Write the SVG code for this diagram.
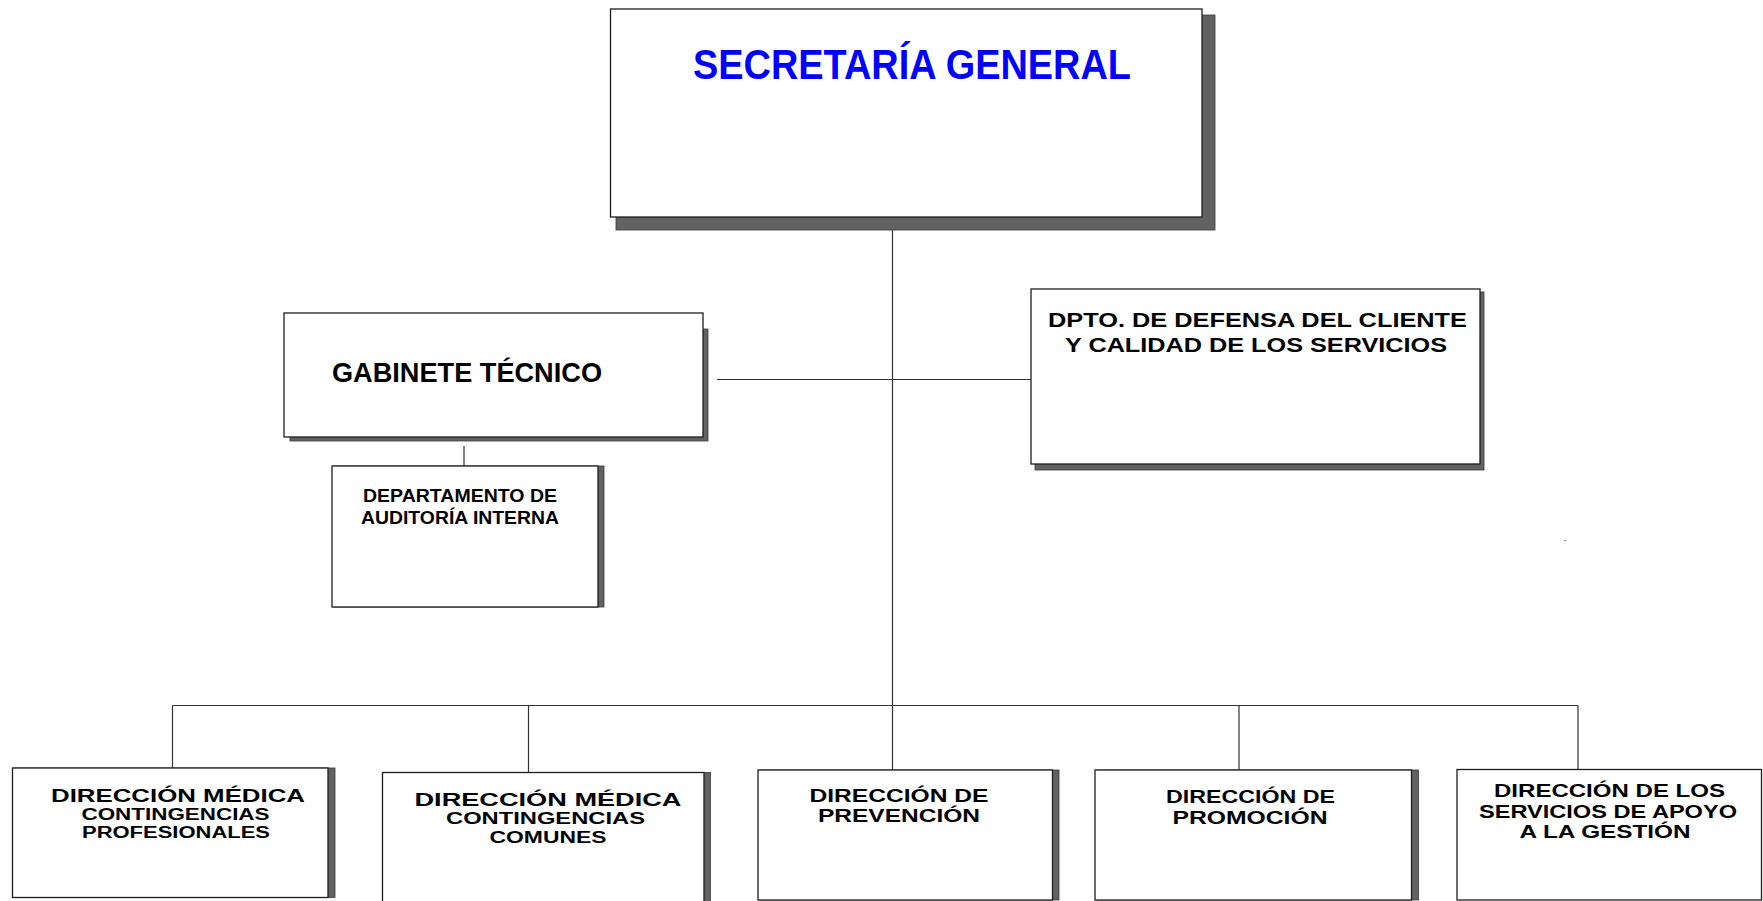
<svg xmlns="http://www.w3.org/2000/svg" width="1763" height="901" viewBox="0 0 1763 901">
<style>
.bg{fill:#ffffff}
.sh{fill:#626262;stroke:#3a3a3a;stroke-width:0.8}
.bx{fill:#ffffff;stroke:#1e1e1e;stroke-width:1.3}
.ln{stroke:#333333;stroke-width:1.2;fill:none}
.t{font-family:"Liberation Sans",Arial,sans-serif;font-weight:bold;fill:#000000;text-anchor:middle}
.title{fill:#0000ff}
</style>
<rect class="bg" x="0" y="0" width="1763" height="901"/>
<g id="connectors">
<line class="ln" x1="892.5" y1="217" x2="892.5" y2="770"/>
<line class="ln" x1="717" y1="379.5" x2="1031" y2="379.5"/>
<line class="ln" x1="464" y1="446" x2="464" y2="471"/>
<line class="ln" x1="172.5" y1="705.5" x2="1578" y2="705.5"/>
<line class="ln" x1="172.5" y1="705.5" x2="172.5" y2="770"/>
<line class="ln" x1="528.5" y1="705.5" x2="528.5" y2="776.5"/>
<line class="ln" x1="1239" y1="705.5" x2="1239" y2="770"/>
<line class="ln" x1="1578" y1="705.5" x2="1578" y2="769.5"/>
</g>
<g id="secretaria-general">
<rect class="sh" x="616" y="15" width="599" height="215"/>
<rect class="bx" x="610.5" y="9" width="591.5" height="208"/>
<text class="t title" x="912" y="79" font-size="42" textLength="438" lengthAdjust="spacingAndGlyphs">SECRETARÍA GENERAL</text>
</g>
<g id="gabinete-tecnico">
<rect class="sh" x="290" y="329" width="418" height="112"/>
<rect class="bx" x="284" y="313" width="419" height="124"/>
<text class="t" x="467" y="381.5" font-size="27" textLength="270" lengthAdjust="spacingAndGlyphs">GABINETE TÉCNICO</text>
</g>
<g id="auditoria-interna">
<rect class="sh" x="334" y="466" width="270" height="141"/>
<rect class="bx" x="332" y="466" width="266" height="141"/>
<text class="t" x="460" y="502" font-size="18.5" textLength="194" lengthAdjust="spacingAndGlyphs">DEPARTAMENTO DE</text>
<text class="t" x="460" y="524" font-size="18.5" textLength="198" lengthAdjust="spacingAndGlyphs">AUDITORÍA INTERNA</text>
</g>
<g id="defensa-cliente">
<rect class="sh" x="1035" y="292" width="449" height="178"/>
<rect class="bx" x="1031" y="289" width="449" height="175"/>
<text class="t" x="1257.5" y="327" font-size="21" textLength="419" lengthAdjust="spacingAndGlyphs">DPTO. DE DEFENSA DEL CLIENTE</text>
<text class="t" x="1256" y="352" font-size="21" textLength="382" lengthAdjust="spacingAndGlyphs">Y CALIDAD DE LOS SERVICIOS</text>
</g>
<g id="dir-medica-profesionales">
<rect class="sh" x="14" y="768" width="321" height="129.5"/>
<rect class="bx" x="12.5" y="768" width="315.5" height="129.5"/>
<text class="t" x="178" y="801.7" font-size="17.5" textLength="254" lengthAdjust="spacingAndGlyphs">DIRECCIÓN MÉDICA</text>
<text class="t" x="175.5" y="820.3" font-size="16" textLength="188" lengthAdjust="spacingAndGlyphs">CONTINGENCIAS</text>
<text class="t" x="176" y="838.3" font-size="16" textLength="188" lengthAdjust="spacingAndGlyphs">PROFESIONALES</text>
</g>
<g id="dir-medica-comunes">
<rect class="sh" x="384" y="772.5" width="326.5" height="135"/>
<rect class="bx" x="382.5" y="772.5" width="321.5" height="135"/>
<text class="t" x="548" y="805.7" font-size="18" textLength="267" lengthAdjust="spacingAndGlyphs">DIRECCIÓN MÉDICA</text>
<text class="t" x="545.5" y="824.3" font-size="16" textLength="199" lengthAdjust="spacingAndGlyphs">CONTINGENCIAS</text>
<text class="t" x="548" y="843.3" font-size="16" textLength="117" lengthAdjust="spacingAndGlyphs">COMUNES</text>
</g>
<g id="dir-prevencion">
<rect class="sh" x="760" y="770" width="299" height="130"/>
<rect class="bx" x="758" y="770" width="294.5" height="130"/>
<text class="t" x="899" y="802.3" font-size="17.5" textLength="179" lengthAdjust="spacingAndGlyphs">DIRECCIÓN DE</text>
<text class="t" x="899" y="822.3" font-size="17.5" textLength="162" lengthAdjust="spacingAndGlyphs">PREVENCIÓN</text>
</g>
<g id="dir-promocion">
<rect class="sh" x="1097" y="770" width="321.5" height="130"/>
<rect class="bx" x="1095" y="770" width="316.5" height="130"/>
<text class="t" x="1250.5" y="803.3" font-size="17.5" textLength="169" lengthAdjust="spacingAndGlyphs">DIRECCIÓN DE</text>
<text class="t" x="1250" y="824" font-size="17.5" textLength="155" lengthAdjust="spacingAndGlyphs">PROMOCIÓN</text>
</g>
<g id="dir-servicios-apoyo">
<rect class="bx" x="1457" y="769.5" width="304.5" height="130.5"/>
<text class="t" x="1609.5" y="796.7" font-size="17.5" textLength="231" lengthAdjust="spacingAndGlyphs">DIRECCIÓN DE LOS</text>
<text class="t" x="1608" y="817.7" font-size="17.5" textLength="258" lengthAdjust="spacingAndGlyphs">SERVICIOS DE APOYO</text>
<text class="t" x="1605" y="837.7" font-size="17.5" textLength="171" lengthAdjust="spacingAndGlyphs">A LA GESTIÓN</text>
</g>
<rect x="1564.5" y="540" width="1.2" height="1.2" fill="#555555"/>
</svg>
